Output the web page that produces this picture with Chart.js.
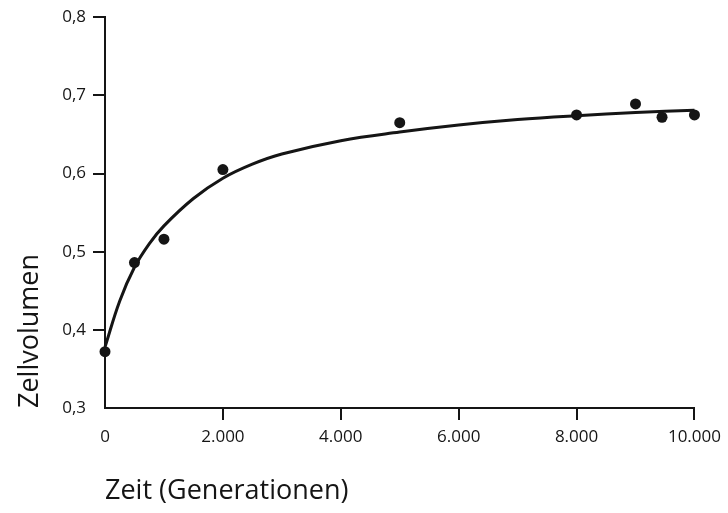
<!DOCTYPE html>
<html>
<head>
<meta charset="utf-8">
<script src="https://cdn.jsdelivr.net/npm/chart.js@4/dist/chart.umd.min.js"></script>
<style>
    html, body { margin: 0; padding: 0; background: #fff; }
    #wrap { width: 728px; height: 513px; position: relative; }
</style>
</head>
<body>
<div id="wrap"><canvas id="volChart"></canvas></div>
<script>
// Measured points (generations, cell volume)
const measuredX = [0, 500, 1000, 2000, 5000, 8000, 9000, 9450, 10000];
const measuredY = [0.372, 0.486, 0.516, 0.605, 0.665, 0.675, 0.689, 0.672, 0.675];

// Fitted curve
const curveX = [0, 250, 500, 750, 1000, 1500, 2000, 2500, 3000, 4000, 5000, 6000, 7000, 8000, 9000, 10000];
const curveY = [0.378, 0.437, 0.480, 0.510, 0.533, 0.568, 0.594, 0.612, 0.625, 0.642, 0.653, 0.662, 0.669, 0.674, 0.678, 0.681];

const xTicks = [0, 2000, 4000, 6000, 8000, 10000];
const yTicks = [0.3, 0.4, 0.5, 0.6, 0.7, 0.8];

const xTitle = 'Zeit (Generationen)';
const yTitle = 'Zellvolumen';

const ink = '#151515';
const tickFont = { family: 'Open Sans', size: 17 };
const titleFont = { family: 'Open Sans', size: 27 };

function fmtThousands(v) {
    return String(Math.round(v)).replace(/\B(?=(\d{3})+(?!\d))/g, '.');
}

const ctx = document.getElementById('volChart').getContext('2d');
new Chart(ctx, {
    type: 'scatter',
    data: {
        datasets: [
            {
                type: 'line',
                data: curveX.map((x, i) => ({ x: x, y: curveY[i] })),
                borderColor: ink,
                borderWidth: 3,
                pointRadius: 0,
                fill: false,
                tension: 0.4,
                clip: false
            },
            {
                data: measuredX.map((x, i) => ({ x: x, y: measuredY[i] })),
                backgroundColor: ink,
                borderColor: ink,
                pointRadius: 5.5,
                borderWidth: 0,
                clip: false
            }
        ]
    },
    options: {
        responsive: true,
        maintainAspectRatio: false,
        animation: false,
        layout: { padding: { top: 15, right: 31, left: 0, bottom: 0 } },
        plugins: {
            legend: { display: false },
            tooltip: { enabled: false }
        },
        scales: {
            x: {
                type: 'linear',
                min: 0,
                max: 10000,
                afterFit: s => { s.height = 105; },
                afterBuildTicks: s => { s.ticks = xTicks.map(v => ({ value: v })); },
                border: { display: true, color: ink, width: 2 },
                grid: {
                    drawOnChartArea: false,
                    drawTicks: true,
                    tickLength: 12,
                    lineWidth: 2,
                    color: c => c.index === 0 ? 'rgba(0,0,0,0)' : ink
                },
                ticks: {
                    color: ink,
                    font: tickFont,
                    padding: 7,
                    maxRotation: 0,
                    callback: v => fmtThousands(v)
                },
                title: {
                    display: true,
                    text: xTitle,
                    align: 'start',
                    color: ink,
                    font: titleFont,
                    padding: { top: 0, bottom: 5 }
                }
            },
            y: {
                min: 0.3,
                max: 0.8,
                afterFit: s => { s.width = 105; },
                afterBuildTicks: s => { s.ticks = yTicks.map(v => ({ value: v })); },
                border: { display: true, color: ink, width: 2 },
                grid: {
                    drawOnChartArea: false,
                    drawTicks: true,
                    tickLength: 12,
                    lineWidth: 2,
                    color: c => c.index === 0 ? 'rgba(0,0,0,0)' : ink
                },
                ticks: {
                    color: ink,
                    font: tickFont,
                    padding: 7,
                    callback: v => v.toFixed(1).replace('.', ',')
                },
                title: {
                    display: true,
                    text: yTitle,
                    align: 'start',
                    color: ink,
                    font: titleFont,
                    padding: { top: 14, bottom: 0 }
                }
            }
        }
    }
});
</script>
</body>
</html>
